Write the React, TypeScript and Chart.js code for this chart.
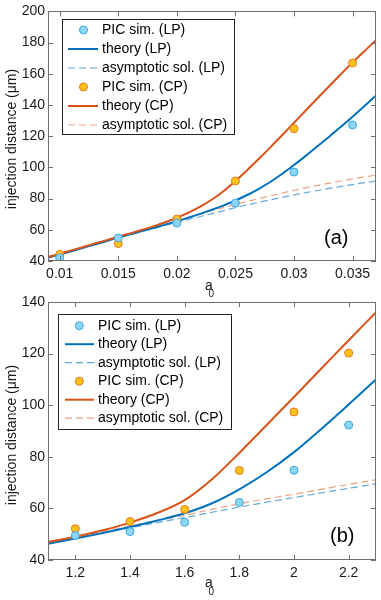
import React, { useEffect, useRef } from 'react';
import { Chart, registerables } from 'chart.js';

Chart.register(...registerables);

const FONT = '"Liberation Sans", Arial, Helvetica, sans-serif';

// ---------- Panel (a) data ----------
const xTicksA = [0.01, 0.015, 0.02, 0.025, 0.03, 0.035];
const xTickLabelsA = ['0.01', '0.015', '0.02', '0.025', '0.03', '0.035'];
const yTicksA = [40, 60, 80, 100, 120, 140, 160, 180, 200];

const picA0A = [0.01, 0.015, 0.02, 0.025, 0.03, 0.035];
const picLPA = [42.1, 54.8, 64.3, 77.1, 97.0, 127.2];
const picCPA = [44.2, 51.2, 66.8, 91.3, 124.8, 166.9];

const theoryA0A = [0.009, 0.01, 0.011, 0.012, 0.013, 0.014, 0.015, 0.016, 0.017, 0.018, 0.019, 0.02, 0.021, 0.022, 0.023, 0.024, 0.025, 0.026, 0.027, 0.028, 0.029, 0.03, 0.031, 0.032, 0.033, 0.034, 0.035, 0.036, 0.037];
const theoryLPA = [42.2, 44.2, 46.3, 48.5, 50.6, 52.8, 55.0, 57.1, 59.2, 61.2, 63.3, 65.5, 67.8, 70.2, 72.9, 75.7, 78.8, 82.3, 86.3, 90.8, 95.9, 101.5, 107.4, 113.5, 119.7, 126.0, 132.5, 139.2, 146.1];
const theoryCPA = [42.6, 44.6, 46.8, 49.0, 51.2, 53.4, 55.6, 57.7, 59.9, 62.2, 64.8, 67.7, 71.0, 74.8, 79.4, 84.9, 91.3, 98.2, 105.5, 113.0, 120.8, 128.6, 136.5, 144.3, 152.0, 159.7, 167.3, 174.5, 181.5];

const asymA0A = [0.009, 0.011, 0.013, 0.015, 0.017, 0.019, 0.021, 0.023, 0.025, 0.027, 0.029, 0.031, 0.033, 0.035, 0.037];
const asymLPA = [42.1, 46.3, 50.6, 54.8, 58.9, 62.8, 66.6, 70.4, 74.2, 77.6, 80.8, 83.8, 86.5, 89.0, 91.3];
const asymCPA = [42.6, 46.8, 51.1, 55.4, 59.6, 63.6, 67.9, 72.2, 76.3, 80.0, 83.6, 86.9, 89.9, 92.6, 95.1];

// ---------- Panel (b) data ----------
const xTicksB = [1.2, 1.4, 1.6, 1.8, 2.0, 2.2];
const xTickLabelsB = ['1.2', '1.4', '1.6', '1.8', '2', '2.2'];
const yTicksB = [40, 60, 80, 100, 120, 140];

const picA0B = [1.2, 1.4, 1.6, 1.8, 2.0, 2.2];
const picLPB = [49.5, 51.0, 54.6, 62.3, 74.8, 92.3];
const picCPB = [52.1, 54.9, 59.6, 74.7, 97.4, 120.2];

const theoryA0B = [1.1, 1.2, 1.3, 1.4, 1.5, 1.6, 1.7, 1.8, 1.9, 2.0, 2.1, 2.2, 2.3];
const theoryLPB = [46.3, 48.3, 50.5, 52.8, 55.3, 58.1, 62.0, 67.4, 74.0, 81.8, 90.8, 100.3, 110.0];
const theoryCPB = [47.0, 49.0, 51.5, 54.5, 58.2, 63.2, 71.3, 81.5, 92.3, 103.2, 114.2, 125.2, 136.0];
const asymLPB = [46.3, 48.3, 50.4, 52.5, 54.5, 56.4, 58.5, 60.5, 62.4, 64.2, 66.0, 67.8, 69.5];
const asymCPB = [47.0, 48.9, 51.0, 53.2, 55.3, 57.3, 59.6, 61.8, 63.7, 65.5, 67.4, 69.3, 71.1];

const legendLabels = ['PIC sim. (LP)', 'theory (LP)', 'asymptotic sol. (LP)', 'PIC sim. (CP)', 'theory (CP)', 'asymptotic sol. (CP)'];
const yTitle = 'injection distance (\u03bcm)';

// ---------- styles ----------
const C_LP = '#0072BD';
const C_CP = '#D95319';
const C_LP_DASH = 'rgba(0,114,189,0.62)';
const C_CP_DASH = 'rgba(217,83,25,0.55)';
const PIC_LP_FILL = '#8ED6F7';
const PIC_LP_EDGE = '#3DA4DC';
const PIC_CP_FILL = '#FFC21A';
const PIC_CP_EDGE = '#E5781C';
const AXIS_C = '#6f6f6f';
const TEXT_C = '#1a1a1a';

const zip = (xs: number[], ys: number[]) => xs.map((x, i) => ({ x, y: ys[i] }));

type Spec = {
  xMin: number; xMax: number; yMin: number; yMax: number;
  xTicks: number[]; xLabels: string[]; yTicks: number[];
  padTop: number; xAxisH: number;
  datasets: any[];
  legend: { x: number; y: number; w: number; h: number; row0: number; rowH: number; mx: number; l0: number; l1: number; tx: number };
  tag: string; tagX: number; tagY: number;
  aX: number; aBase: number; subX: number; subBase: number;
  yTitleY: number;
};

function makeDatasets(picX: number[], picLP: number[], picCP: number[], thX: number[], thLP: number[], thCP: number[], asX: number[], asLP: number[], asCP: number[]) {
  const point = (data: any, fill: string, edge: string, label: string) => ({
    label, data, showLine: false, pointRadius: 4, pointHoverRadius: 4, pointBorderWidth: 1,
    pointBackgroundColor: fill, pointBorderColor: edge, backgroundColor: fill, borderColor: edge, order: 0,
  });
  const line = (data: any, color: string, label: string, dashed: boolean) => ({
    label, data, showLine: true, pointRadius: 0, borderColor: color, backgroundColor: color,
    borderWidth: dashed ? 1.2 : 2, borderDash: dashed ? [7, 4] : [], cubicInterpolationMode: 'monotone',
    order: dashed ? 2 : 1, fill: false,
  });
  return [
    point(zip(picX, picLP), PIC_LP_FILL, PIC_LP_EDGE, legendLabels[0]),
    point(zip(picX, picCP), PIC_CP_FILL, PIC_CP_EDGE, legendLabels[3]),
    line(zip(thX, thCP), C_CP, legendLabels[4], false),
    line(zip(thX, thLP), C_LP, legendLabels[1], false),
    line(zip(asX, asCP), C_CP_DASH, legendLabels[5], true),
    line(zip(asX, asLP), C_LP_DASH, legendLabels[2], true),
  ];
}

const legendStyles = [
  { kind: 'point', fill: PIC_LP_FILL, edge: PIC_LP_EDGE },
  { kind: 'line', color: C_LP },
  { kind: 'dash', color: C_LP_DASH },
  { kind: 'point', fill: PIC_CP_FILL, edge: PIC_CP_EDGE },
  { kind: 'line', color: C_CP },
  { kind: 'dash', color: C_CP_DASH },
];

function framePlugin(spec: Spec) {
  return {
    id: 'frame',
    afterDraw(chart: any) {
      const { ctx, chartArea } = chart;
      const { left, right, top, bottom } = chartArea;
      const xs = chart.scales.x;
      const ys = chart.scales.y;
      ctx.save();
      // box
      ctx.strokeStyle = AXIS_C;
      ctx.lineWidth = 1;
      ctx.strokeRect(Math.round(left) + 0.5, Math.round(top) + 0.5, Math.round(right - left) - 1, Math.round(bottom - top) - 1);
      // inward ticks on all four sides
      ctx.beginPath();
      for (const v of spec.xTicks) {
        const px = Math.round(xs.getPixelForValue(v)) + 0.5;
        ctx.moveTo(px, bottom); ctx.lineTo(px, bottom - 5);
        ctx.moveTo(px, top); ctx.lineTo(px, top + 5);
      }
      for (const v of spec.yTicks) {
        const py = Math.round(ys.getPixelForValue(v)) + 0.5;
        ctx.moveTo(left, py); ctx.lineTo(left + 5, py);
        ctx.moveTo(right, py); ctx.lineTo(right - 5, py);
      }
      ctx.stroke();

      // y title
      ctx.fillStyle = TEXT_C;
      ctx.font = `14px ${FONT}`;
      ctx.save();
      ctx.translate(12.5, spec.yTitleY);
      ctx.rotate(-Math.PI / 2);
      ctx.textAlign = 'center';
      ctx.textBaseline = 'middle';
      ctx.fillText(yTitle, 0, 0);
      ctx.restore();

      // x title a_0
      ctx.textAlign = 'left';
      ctx.textBaseline = 'alphabetic';
      ctx.font = `14px ${FONT}`;
      ctx.fillText('a', spec.aX, spec.aBase);
      ctx.font = `10px ${FONT}`;
      ctx.fillText('0', spec.subX, spec.subBase);

      // panel tag
      ctx.font = `20px ${FONT}`;
      ctx.textBaseline = 'middle';
      ctx.fillStyle = '#000';
      ctx.fillText(spec.tag, spec.tagX, spec.tagY);

      // legend
      const L = spec.legend;
      ctx.fillStyle = '#fff';
      ctx.fillRect(L.x, L.y, L.w, L.h);
      ctx.strokeStyle = '#222';
      ctx.lineWidth = 1;
      ctx.strokeRect(L.x + 0.5, L.y + 0.5, L.w, L.h);
      ctx.font = `14px ${FONT}`;
      ctx.textBaseline = 'middle';
      legendLabels.forEach((lab, i) => {
        const ry = L.row0 + i * L.rowH;
        const st: any = legendStyles[i];
        if (st.kind === 'point') {
          ctx.beginPath();
          ctx.arc(L.mx, ry, 4, 0, Math.PI * 2);
          ctx.fillStyle = st.fill;
          ctx.fill();
          ctx.strokeStyle = st.edge;
          ctx.lineWidth = 1;
          ctx.stroke();
        } else {
          ctx.beginPath();
          ctx.strokeStyle = st.color;
          ctx.lineWidth = st.kind === 'line' ? 2 : 1.2;
          ctx.setLineDash(st.kind === 'dash' ? [7, 4] : []);
          ctx.moveTo(L.l0, ry);
          ctx.lineTo(L.l1, ry);
          ctx.stroke();
          ctx.setLineDash([]);
        }
        ctx.fillStyle = '#000';
        ctx.fillText(lab, L.tx, ry);
      });
      ctx.restore();
    },
  };
}

function buildChart(canvas: HTMLCanvasElement, spec: Spec) {
  return new Chart(canvas, {
    type: 'scatter',
    data: { datasets: spec.datasets },
    options: {
      animation: false,
      responsive: false,
      devicePixelRatio: 1,
      events: [],
      layout: { padding: { left: 0, right: 4, top: spec.padTop, bottom: 0 } },
      plugins: { legend: { display: false }, tooltip: { enabled: false } },
      scales: {
        x: {
          type: 'linear', min: spec.xMin, max: spec.xMax,
          grid: { display: false, drawTicks: false },
          border: { display: false },
          afterBuildTicks: (axis: any) => { axis.ticks = spec.xTicks.map((v) => ({ value: v })); },
          afterFit: (axis: any) => { axis.height = spec.xAxisH; },
          ticks: {
            padding: 5, maxRotation: 0, autoSkip: false, color: TEXT_C,
            font: { family: FONT, size: 14 },
            callback: (v: any) => { const i = spec.xTicks.findIndex((t) => Math.abs(t - v) < 1e-9); return i >= 0 ? spec.xLabels[i] : ''; },
          },
        },
        y: {
          type: 'linear', min: spec.yMin, max: spec.yMax,
          grid: { display: false, drawTicks: false },
          border: { display: false },
          afterBuildTicks: (axis: any) => { axis.ticks = spec.yTicks.map((v) => ({ value: v })); },
          afterFit: (axis: any) => { axis.width = 48; },
          ticks: { padding: 3, color: TEXT_C, font: { family: FONT, size: 14 }, callback: (v: any) => String(v) },
        },
      },
    },
    plugins: [framePlugin(spec)],
  } as any);
}

const specA: Spec = {
  xMin: 0.009, xMax: 0.037, yMin: 40, yMax: 200,
  xTicks: xTicksA, xLabels: xTickLabelsA, yTicks: yTicksA,
  padTop: 8, xAxisH: 39,
  datasets: makeDatasets(picA0A, picLPA, picCPA, theoryA0A, theoryLPA, theoryCPA, asymA0A, asymLPA, asymCPA),
  legend: { x: 62, y: 19, w: 172, h: 115, row0: 30, rowH: 19, mx: 83.5, l0: 68, l1: 98, tx: 102 },
  tag: '(a)', tagX: 324, tagY: 238.5,
  aX: 205, aBase: 289.5, subX: 208.5, subBase: 297,
  yTitleY: 139,
};

const specB: Spec = {
  xMin: 1.1, xMax: 2.3, yMin: 40, yMax: 140,
  xTicks: xTicksB, xLabels: xTickLabelsB, yTicks: yTicksB,
  padTop: 12, xAxisH: 40,
  datasets: makeDatasets(picA0B, picLPB, picCPB, theoryA0B, theoryLPB, theoryCPB, theoryA0B, asymLPB, asymCPB),
  legend: { x: 58, y: 24, w: 173, h: 115, row0: 35.7, rowH: 18.5, mx: 79.3, l0: 65, l1: 94, tx: 98 },
  tag: '(b)', tagX: 330, tagY: 246.7,
  aX: 205, aBase: 296.7, subX: 208.5, subBase: 305,
  yTitleY: 145,
};

export default function App() {
  const refA = useRef<HTMLCanvasElement | null>(null);
  const refB = useRef<HTMLCanvasElement | null>(null);
  useEffect(() => {
    document.body.style.margin = '0';
    const ca = refA.current ? buildChart(refA.current, specA) : null;
    const cb = refB.current ? buildChart(refB.current, specB) : null;
    return () => { ca?.destroy(); cb?.destroy(); };
  }, []);
  return (
    <div style={{ position: 'fixed', left: 0, top: 0, width: 381, height: 600, background: '#fff' }}>
      <canvas ref={refA} width={381} height={300} style={{ position: 'absolute', left: 0, top: 0 }} />
      <canvas ref={refB} width={381} height={310} style={{ position: 'absolute', left: 0, top: 290 }} />
    </div>
  );
}
